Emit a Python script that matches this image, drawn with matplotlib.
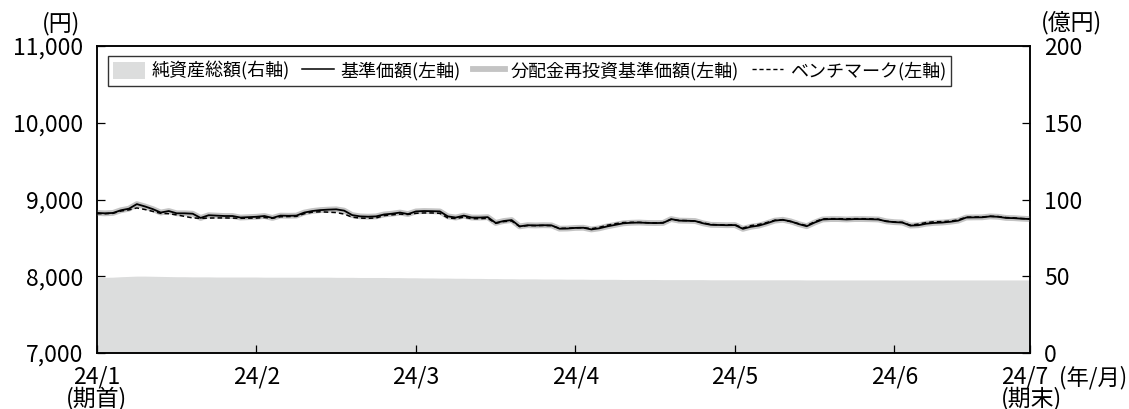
import matplotlib
matplotlib.use("Agg")
import matplotlib.pyplot as plt
from matplotlib.patches import Patch
from matplotlib.lines import Line2D

plt.rcParams['font.family'] = ['Noto Sans CJK JP', 'DejaVu Sans']

# Daily series, one value per business day (index 0 = start of period)
nav = [
    8825, 8820, 8825, 8860, 8880, 8940, 8910, 8875, 8830, 8850,
    8820, 8820, 8815, 8760, 8795, 8790, 8785, 8785, 8765, 8770,
    8775, 8785, 8760, 8790, 8788, 8790, 8830, 8850, 8862, 8868,
    8872, 8855, 8797, 8780, 8776, 8780, 8805, 8815, 8830, 8810,
    8845, 8850, 8848, 8845, 8780, 8765, 8790, 8765, 8765, 8770,
    8695, 8720, 8732, 8650, 8665, 8662, 8665, 8663, 8620, 8622,
    8630, 8632, 8610, 8625, 8650, 8670, 8690, 8697, 8700, 8695,
    8693, 8695, 8745, 8725, 8723, 8720, 8690, 8670, 8668, 8665,
    8667, 8618, 8645, 8660, 8690, 8725, 8736, 8715, 8680, 8652,
    8700, 8740, 8745, 8745, 8740, 8745, 8745, 8743, 8740, 8715,
    8705, 8700, 8660, 8665, 8685, 8695, 8700, 8710, 8725, 8765,
    8767, 8768, 8780, 8775, 8760, 8757, 8750, 8745,
]

# No distributions were paid in the period, so the reinvested NAV equals the NAV
nav_reinvested = list(nav)

benchmark = [
    8815, 8815, 8820, 8850, 8865, 8890, 8870, 8845, 8820, 8815,
    8800, 8780, 8760, 8755, 8758, 8760, 8760, 8758, 8755, 8757,
    8758, 8765, 8755, 8775, 8778, 8780, 8815, 8835, 8840, 8835,
    8830, 8810, 8770, 8758, 8755, 8760, 8790, 8800, 8810, 8805,
    8820, 8825, 8825, 8820, 8760, 8752, 8770, 8750, 8750, 8755,
    8690, 8712, 8720, 8648, 8660, 8660, 8662, 8660, 8625, 8625,
    8632, 8633, 8620, 8638, 8665, 8685, 8700, 8703, 8702, 8698,
    8695, 8700, 8740, 8728, 8725, 8720, 8695, 8675, 8670, 8668,
    8672, 8628, 8660, 8675, 8700, 8730, 8735, 8712, 8685, 8660,
    8710, 8748, 8750, 8750, 8748, 8750, 8750, 8748, 8742, 8718,
    8708, 8702, 8665, 8680, 8700, 8710, 8712, 8718, 8735, 8770,
    8772, 8772, 8782, 8778, 8765, 8760, 8752, 8748,
]

# Total net assets (100 million yen)
net_assets = [
    49.3, 49.3, 49.4, 49.7, 49.9, 50.1, 50.1, 50.0, 49.9, 49.8,
    49.7, 49.7, 49.6, 49.6, 49.6, 49.5, 49.5, 49.5, 49.5, 49.5,
    49.5, 49.4, 49.4, 49.4, 49.4, 49.4, 49.4, 49.4, 49.4, 49.4,
    49.3, 49.3, 49.3, 49.2, 49.2, 49.2, 49.2, 49.1, 49.1, 49.0,
    49.0, 48.9, 48.9, 48.8, 48.8, 48.7, 48.7, 48.6, 48.6, 48.5,
    48.5, 48.4, 48.4, 48.3, 48.3, 48.3, 48.2, 48.2, 48.2, 48.1,
    48.1, 48.1, 48.0, 48.0, 48.0, 48.0, 47.9, 47.9, 47.9, 47.9,
    47.9, 47.8, 47.8, 47.8, 47.8, 47.8, 47.8, 47.7, 47.7, 47.7,
    47.7, 47.7, 47.7, 47.7, 47.7, 47.7, 47.7, 47.7, 47.7, 47.6,
    47.6, 47.6, 47.6, 47.6, 47.6, 47.6, 47.6, 47.6, 47.6, 47.6,
    47.6, 47.6, 47.6, 47.6, 47.6, 47.6, 47.6, 47.6, 47.6, 47.6,
    47.6, 47.6, 47.6, 47.6, 47.6, 47.6, 47.6, 47.6,
]

month_ticks = [0, 20, 40, 60, 80, 100, 117]
month_labels = ["24/1\n(期首)", "24/2", "24/3", "24/4", "24/5", "24/6", "24/7\n(期末)"]
left_ticks = [7000, 8000, 9000, 10000, 11000]
right_ticks = [0, 50, 100, 150, 200]

legend_labels = ["純資産総額(右軸)", "基準価額(左軸)", "分配金再投資基準価額(左軸)", "ベンチマーク(左軸)"]

AREA = "#dcdddd"
HALO = "#c4c4c4"
FS = 16.5

fig = plt.figure(figsize=(11.29, 4.09), dpi=100)
ax = fig.add_axes([0.0859, 0.1369, 0.8264, 0.7506])
ax2 = ax.twinx()
ax.set_zorder(ax2.get_zorder() + 1)
ax.patch.set_visible(False)

x = list(range(len(nav)))
ax2.fill_between(x, 0, net_assets, color=AREA, lw=0)
ax2.set_ylim(0, 200)
ax2.set_yticks(right_ticks)

ax.plot(x, nav_reinvested, color=HALO, lw=4.2, solid_capstyle="butt")
ax.plot(x, nav, color="black", lw=1.3)
ax.plot(x, benchmark, color="black", lw=1.1, ls=(0, (3, 2)))

ax.set_xlim(0, 117)
ax.set_ylim(7000, 11000)
ax.set_yticks(left_ticks)
ax.set_yticklabels([f"{v:,}" for v in left_ticks])
ax.set_xticks(month_ticks)
# The period-end label is drawn separately, left-aligned inside the right edge
ax.set_xticklabels(month_labels[:-1] + [""], linespacing=0.9, va="top")

for a in (ax, ax2):
    for s in a.spines.values():
        s.set_linewidth(1.1)
    a.tick_params(direction="in", length=5.5, width=0.9, labelsize=FS, pad=10)
ax.tick_params(axis="x", pad=9)

ax.annotate(month_labels[-1], xy=(1, 0), xycoords="axes fraction",
            xytext=(-21, -9), textcoords="offset points", ha="left", va="top",
            multialignment="left", linespacing=0.9, fontsize=FS)
ax.annotate("(年/月)", xy=(1, 0), xycoords="axes fraction", xytext=(70, -17.5),
            textcoords="offset points", ha="right", va="center", fontsize=16)

ax.annotate("(円)", xy=(0, 1), xycoords="axes fraction", xytext=(-12, 16.5),
            textcoords="offset points", ha="right", va="center", fontsize=FS)
ax.annotate("(億円)", xy=(1, 1), xycoords="axes fraction", xytext=(8, 17),
            textcoords="offset points", ha="left", va="center", fontsize=FS)

handles = [
    Patch(facecolor=AREA, edgecolor="none"),
    Line2D([], [], color="black", lw=1.1),
    Line2D([], [], color=HALO, lw=4.2),
    Line2D([], [], color="black", lw=1.0, ls=(0, (3, 2))),
]
leg = ax.legend(handles, legend_labels, ncol=4, loc="upper left",
                bbox_to_anchor=(0.0118, 0.967), borderaxespad=0,
                fontsize=13, frameon=True, fancybox=False, edgecolor="black",
                handlelength=1.75, handleheight=1.1, handletextpad=0.35,
                columnspacing=0.7, borderpad=0.3)
leg.get_frame().set_linewidth(1.0)

fig.savefig("out.png", dpi=100)
